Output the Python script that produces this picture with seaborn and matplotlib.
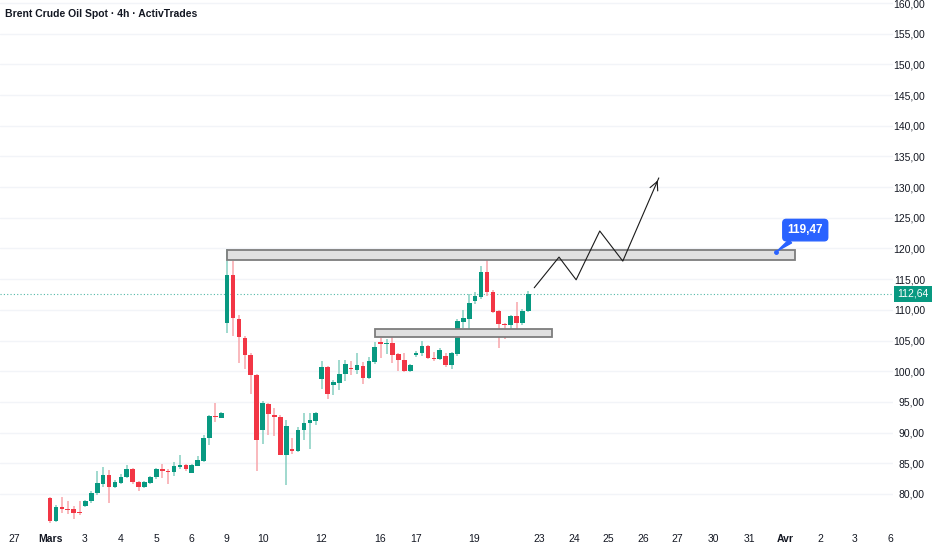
import numpy as np
import pandas as pd
import seaborn as sns
import matplotlib.pyplot as plt
from matplotlib import font_manager
from matplotlib.patches import Rectangle
from matplotlib.transforms import blended_transform_factory

sns.set_theme(style='white')
plt.rcParams['font.family'] = ['Liberation Sans', 'DejaVu Sans']
# use a condensed face if one is around (the chart font is narrow)
_fonts = font_manager.fontManager.ttflist
if any(f.name == 'Liberation Sans Narrow' for f in _fonts):
    plt.rcParams['font.family'] = ['Liberation Sans Narrow', 'DejaVu Sans']

# 4h candles, 2 Mar -> 20 Mar
opens = [79.3, 75.65, 77.83, 77.6, 77.5, 77.07, 78.05, 78.8, 80.1, 81.6,
         83.15, 81.2, 81.85, 82.8, 84.0, 81.95, 81.2, 81.85, 82.7, 84.1,
         83.8, 83.6, 84.45, 84.7, 83.5, 84.56, 85.3, 89.1, 92.7, 92.4,
         107.9, 115.73, 108.57, 105.4, 102.7, 99.44, 90.4, 94.66, 92.9, 92.6,
         86.4, 87.4, 86.96, 90.4, 91.5, 91.95,
         98.69, 100.64, 97.7, 98.1, 99.55, 100.5, 100.2, 100.85, 98.9, 101.5,
         104.77, 104.44, 104.66, 102.8, 101.9, 100.1, 102.6, 103.0, 104.1, 102.16,
         102.05, 102.5, 100.95, 102.8, 108.1, 108.57, 111.5, 112.15, 116.17, 112.9,
         109.77, 107.7, 107.5, 109.0, 107.8, 109.77]
highs = [79.5, 78.15, 79.45, 78.8, 78.05, 78.8, 79.1, 80.5, 83.7, 84.35,
         83.9, 82.3, 83.3, 84.7, 84.3, 82.1, 82.1, 82.9, 84.3, 84.9,
         84.0, 85.2, 86.4, 84.9, 84.9, 86.2, 89.55, 92.9, 94.9, 93.3,
         119.9, 117.9, 109.2, 105.8, 102.9, 99.6, 95.1, 94.8, 94.0, 92.9,
         92.0, 89.1, 90.9, 93.15, 93.2, 93.3,
         101.6, 100.8, 98.6, 101.8, 101.8, 101.6, 102.9, 101.5, 102.4, 104.7,
         105.4, 105.2, 106.5, 103.0, 102.9, 101.2, 103.3, 105.0, 104.3, 103.2,
         103.8, 103.0, 103.2, 108.5, 109.98, 112.6, 112.9, 117.15, 119.1, 113.3,
         110.0, 107.8, 109.2, 111.3, 110.2, 113.1]
lows = [75.2, 75.5, 76.95, 76.7, 75.87, 76.5, 77.8, 78.6, 79.9, 81.2,
        78.6, 81.0, 81.6, 82.6, 81.7, 80.5, 81.0, 81.7, 82.4, 82.6,
        81.6, 83.0, 84.1, 83.8, 83.4, 84.5, 85.2, 87.9, 91.7, 92.3,
        106.3, 105.75, 101.4, 100.3, 96.3, 83.8, 88.2, 89.6, 89.45, 86.3,
        81.4, 86.5, 86.9, 88.8, 87.4, 91.3,
        97.05, 95.4, 96.1, 96.9, 98.4, 99.4, 99.6, 98.0, 98.7, 101.1,
        102.2, 102.8, 101.3, 100.0, 99.8, 99.8, 102.4, 102.5, 102.0, 101.6,
        101.9, 100.64, 100.4, 102.5, 107.0, 105.6, 110.9, 111.7, 112.3, 109.5,
        103.8, 105.2, 106.6, 106.8, 107.6, 109.6]
closes = [75.65, 77.83, 77.5, 77.4, 76.95, 76.95, 78.8, 80.22, 81.74, 83.15,
          81.2, 81.95, 82.8, 84.0, 81.95, 81.2, 81.95, 82.7, 84.1, 83.7,
          83.6, 84.56, 84.7, 84.0, 84.7, 85.5, 89.1, 92.7, 92.5, 93.15,
          115.73, 108.63, 105.5, 102.7, 99.44, 88.8, 94.8, 93.03, 92.6, 86.4,
          91.1, 87.0, 90.4, 91.6, 92.05, 93.15,
          100.64, 96.3, 98.25, 99.55, 101.2, 100.3, 100.95, 98.9, 101.7, 104.0,
          104.44, 104.55, 102.7, 101.8, 100.1, 100.95, 103.0, 104.1, 102.16, 102.05,
          103.46, 100.95, 102.9, 108.24, 108.68, 111.07, 112.26, 116.17, 112.9, 109.65,
          107.7, 107.5, 109.0, 107.8, 109.77, 112.64]

last_price = 112.64

# date labels on the time axis (bar index positions)
tick_pos = [-6.1, 0, 5.9, 12, 18, 23.9, 29.9, 36, 45.9, 55.9, 62, 71.8,
            82.8, 88.7, 94.5, 100.4, 106.2, 112.4, 118.4, 124.5, 130.4, 136.3, 142.4]
tick_labels = ['27', 'Mars', '3', '4', '5', '6', '9', '10', '12', '16', '17', '19',
               '23', '24', '25', '26', '27', '30', '31', 'Avr', '2', '3', '6']

# drawn zones (resistance / support)
zone_start = [30, 55]
zone_end = [126.2, 85]
zone_low = [118.2, 105.55]
zone_high = [119.8, 106.95]

# projected path
proj_x = [82.0, 86.2, 89.1, 93.1, 97.0, 103.1]
proj_y = [113.6, 118.6, 114.9, 122.85, 117.95, 131.5]

target_x = 123
target_price = 119.47

GREEN = '#089981'
RED = '#f23645'
GREEN_W = '#86cfc1'
RED_W = '#f8a5ab'
TXT = '#131722'

df = pd.DataFrame({'o': opens, 'h': highs, 'l': lows, 'c': closes})
df['x'] = np.arange(len(df))
df['up'] = df['c'] >= df['o']

fig = plt.figure(figsize=(9.32, 5.5), dpi=100)
ax = fig.add_axes([0, 23 / 550, 893 / 932, 527 / 550])

ax.set_xlim(-8.47, 142.76)
ax.set_ylim(74.62, 160.49)

for lvl in range(80, 161, 5):
    ax.axhline(lvl, color='#f2f4f8', lw=1, zorder=0)

# wicks
ax.vlines(df['x'], df['l'], df['h'],
          colors=np.where(df['up'], GREEN_W, RED_W), lw=1.1, zorder=2)
# bodies
body = (df['c'] - df['o']).abs().clip(lower=0.18)
ax.bar(df['x'], body, bottom=df[['o', 'c']].min(axis=1), width=0.78,
       color=np.where(df['up'], GREEN, RED), linewidth=0, zorder=3)

# zones
for xs, xe, lo, hi in zip(zone_start, zone_end, zone_low, zone_high):
    ax.add_patch(Rectangle((xs, lo), xe - xs, hi - lo, facecolor='#e0e0e0',
                           edgecolor='#7d7d7d', lw=1.3, zorder=4))

# current price line
ax.axhline(last_price, color=GREEN, lw=0.8, ls=(0, (1, 2)), alpha=0.7, zorder=1)

# projection path with arrow head
sns.lineplot(x=proj_x, y=proj_y, sort=False, estimator=None, color='#1a1a1a',
             lw=0.8, ax=ax, zorder=5)
ax.annotate('', xy=(proj_x[-1], proj_y[-1]),
            xytext=(proj_x[-2] + 0.9 * (proj_x[-1] - proj_x[-2]),
                    proj_y[-2] + 0.9 * (proj_y[-1] - proj_y[-2])),
            arrowprops=dict(arrowstyle='->,head_length=0.5,head_width=0.25',
                            color='#1a1a1a', lw=0.8), zorder=5)

# target callout
ax.plot([target_x], [target_price], 'o', color='#2962ff', ms=2.5, zorder=6)
ax.annotate('119,47', xy=(target_x, target_price), xytext=(127.9, 123.0),
            ha='center', va='center', color='white', fontsize=8.5, fontweight='bold',
            bbox=dict(boxstyle='round,pad=0.4,rounding_size=0.3', fc='#2962ff', ec='#2962ff'),
            arrowprops=dict(arrowstyle='wedge,tail_width=0.35', fc='#2962ff', ec='#2962ff',
                            shrinkA=0, shrinkB=1),
            zorder=7)

# axes styling
for s in ax.spines.values():
    s.set_visible(False)
ax.yaxis.tick_right()
ax.set_yticks(range(80, 161, 5))
ax.set_yticklabels([f'{v},00' for v in range(80, 161, 5)], fontsize=7.5, color=TXT, ha='right')
ax.tick_params(axis='y', length=0, pad=23)
ax.set_xticks(tick_pos)
ax.set_xticklabels(tick_labels, fontsize=7.5, color=TXT)
ax.tick_params(axis='x', length=0, pad=5)
for t in ax.get_xticklabels():
    if t.get_text() in ('Mars', 'Avr'):
        t.set_fontweight('bold')
ax.set_xlabel('')
ax.set_ylabel('')

# last price tag on the price scale
tr = blended_transform_factory(fig.transFigure, ax.transData)
fig.add_artist(Rectangle((894 / 932, last_price - 1.3), 38 / 932, 2.6,
                         transform=tr, facecolor=GREEN, edgecolor='none'))
fig.text(913 / 932, last_price, f'{last_price:.2f}'.replace('.', ','), transform=tr,
         ha='center', va='center', color='white', fontsize=7.5)

fig.text(5 / 932, 1 - 14 / 550, 'Brent Crude Oil Spot · 4h · ActivTrades',
         ha='left', va='center', fontsize=7.5, fontweight='bold', color=TXT)

fig.savefig('out.png', dpi=100)
